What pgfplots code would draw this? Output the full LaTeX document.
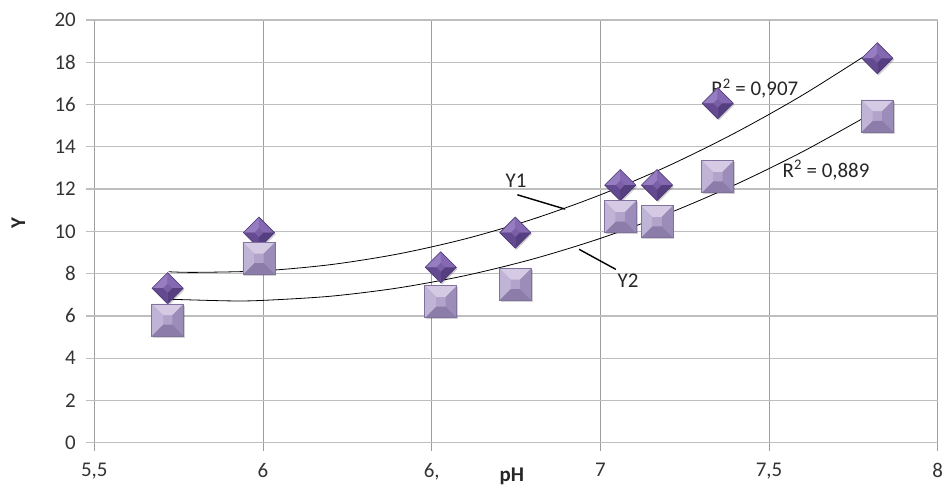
\documentclass[border=0pt]{standalone}
\usepackage{fontspec}
\setmainfont{Carlito}
\usepackage{pgfplots}
\pgfplotsset{compat=1.18}
\definecolor{sqtop}{RGB}{212,202,228}
\definecolor{sqleft}{RGB}{192,180,214}
\definecolor{sqmid}{RGB}{178,163,203}
\definecolor{sqright}{RGB}{156,140,185}
\definecolor{sqbot}{RGB}{140,124,170}
\definecolor{sqedge}{RGB}{128,113,158}
\definecolor{diatop}{RGB}{150,124,192}
\definecolor{diaright}{RGB}{132,104,178}
\definecolor{diamid}{RGB}{122,94,166}
\definecolor{dialeft}{RGB}{100,75,145}
\definecolor{diabot}{RGB}{86,63,128}
\definecolor{diaedge}{RGB}{78,58,118}
\definecolor{gridh}{RGB}{190,190,190}
\definecolor{gridv}{RGB}{158,158,158}
\newcommand\fs{\fontsize{21}{24}\selectfont}
\newcommand\bp[2]{\pgfqpoint{#1\pgfplotmarksize}{#2\pgfplotmarksize}}
\newcommand\bevelmark[8]{%
\pgfdeclareplotmark{#1}{%
 \pgfscope
  \pgftransformshift{\pgfqpoint{1.3bp}{-1.6bp}}\pgftransformrotate{#2}%
  \pgfsetfillcolor{black}\pgfsetfillopacity{0.18}%
  \pgfpathrectangle{\bp{-1}{-1}}{\bp{2}{2}}\pgfusepath{fill}%
 \endpgfscope
 \pgftransformrotate{#2}%
 \pgfsetfillcolor{#7}\pgfpathrectangle{\bp{-1}{-1}}{\bp{2}{2}}\pgfusepath{fill}%
 \pgfsetfillcolor{#3}\pgfpathmoveto{\bp{-1}{1}}\pgfpathlineto{\bp{1}{1}}\pgfpathlineto{\bp{0.3}{0.3}}\pgfpathlineto{\bp{-0.3}{0.3}}\pgfpathclose\pgfusepath{fill}%
 \pgfsetfillcolor{#4}\pgfpathmoveto{\bp{1}{1}}\pgfpathlineto{\bp{1}{-1}}\pgfpathlineto{\bp{0.3}{-0.3}}\pgfpathlineto{\bp{0.3}{0.3}}\pgfpathclose\pgfusepath{fill}%
 \pgfsetfillcolor{#5}\pgfpathmoveto{\bp{1}{-1}}\pgfpathlineto{\bp{-1}{-1}}\pgfpathlineto{\bp{-0.3}{-0.3}}\pgfpathlineto{\bp{0.3}{-0.3}}\pgfpathclose\pgfusepath{fill}%
 \pgfsetfillcolor{#6}\pgfpathmoveto{\bp{-1}{-1}}\pgfpathlineto{\bp{-1}{1}}\pgfpathlineto{\bp{-0.3}{0.3}}\pgfpathlineto{\bp{-0.3}{-0.3}}\pgfpathclose\pgfusepath{fill}%
 \pgfsetstrokecolor{#8}\pgfsetlinewidth{0.6bp}%
 \pgfpathrectangle{\bp{-1}{-1}}{\bp{2}{2}}\pgfusepath{stroke}%
}}
\bevelmark{bevelsq}{0}{sqtop}{sqright}{sqbot}{sqleft}{sqmid}{sqedge}
\bevelmark{beveldia}{45}{diatop}{diaright}{diabot}{dialeft}{diamid}{diaedge}
\begin{document}
\begin{tikzpicture}
\begin{axis}[
  scale only axis, width=843.4bp, height=422.7bp,
  xmin=5.5, xmax=8, ymin=0, ymax=20,
  xtick={5.5,6,6.5,7,7.5,8},
  xticklabels={{5,5},{6},{6,},{7},{7,5},{8}},
  ytick={0,2,...,20},
  grid=major,
  x grid style={gridv, line width=0.8bp},
  y grid style={gridh, line width=1.3bp},
  axis line style={draw opacity=0},
  tick align=outside, major tick length=8bp,
  xtick pos=bottom, ytick pos=left,
  every major x tick/.append style={gridv, line width=0.8bp},
  every major y tick/.append style={gridh, line width=1.3bp},
  ticklabel style={font=\fs, text=black!80},
  xticklabel style={yshift=-9bp},
  yticklabel style={xshift=-7bp},
  /pgf/number format/assume math mode=true,
  xlabel={pH}, ylabel={Y},
  label style={font=\fs\bfseries, text=black!85},
  xlabel style={at={(axis description cs:0.495,-0.079)}, anchor=center},
  ylabel style={at={(axis description cs:-0.090,0.519)}, anchor=center},
  clip=false,
]
\coordinate (O) at (rel axis cs:0,0);
\addplot[only marks, mark=beveldia, mark size=11bp] coordinates {
 (5.7175,7.31) (5.988,9.94) (6.527,8.30) (6.748,9.94)
 (7.059,12.19) (7.168,12.19) (7.348,16.06) (7.821,18.19)};
\addplot[only marks, mark=bevelsq, mark size=16bp] coordinates {
 (5.7175,5.81) (5.988,8.72) (6.527,6.67) (6.748,7.49)
 (7.059,10.69) (7.168,10.46) (7.348,12.59) (7.821,15.46)};
% polynomial trendlines
\addplot[black, line width=0.8bp, smooth, no marks] coordinates {
 (5.72,8.089) (5.8,8.059) (6.0,8.134) (6.2,8.424) (6.4,8.928) (6.6,9.646)
 (6.8,10.579) (7.0,11.726) (7.2,13.087) (7.4,14.663) (7.6,16.453) (7.82,18.670)};
\addplot[black, line width=0.8bp, smooth, no marks] coordinates {
 (5.72,6.789) (5.9,6.71) (6.0,6.734) (6.2,6.930) (6.4,7.321) (6.6,7.908)
 (6.8,8.690) (7.0,9.667) (7.2,10.840) (7.4,12.209) (7.6,13.773) (7.82,15.720)};
\draw[black, line width=1.4bp] (axis cs:6.754,11.73) -- (axis cs:6.896,11.05);
\draw[black, line width=1.4bp] (axis cs:6.937,9.15) -- (axis cs:7.046,8.20);
\node[font=\fs, text=black!85] at (axis cs:6.75,12.38) {Y1};
\node[font=\fs, text=black!85] at (axis cs:7.082,7.65) {Y2};
\node[font=\fs, text=black!85] at (axis cs:7.458,16.76) {R\textsuperscript{2} = 0,907};
\node[font=\fs, text=black!85] at (axis cs:7.669,12.90) {R\textsuperscript{2} = 0,889};
\end{axis}
\pgfresetboundingbox
\path (O) ++(-94.3bp,-44.3bp) rectangle ++(944bp,487bp);
\end{tikzpicture}
\end{document}
